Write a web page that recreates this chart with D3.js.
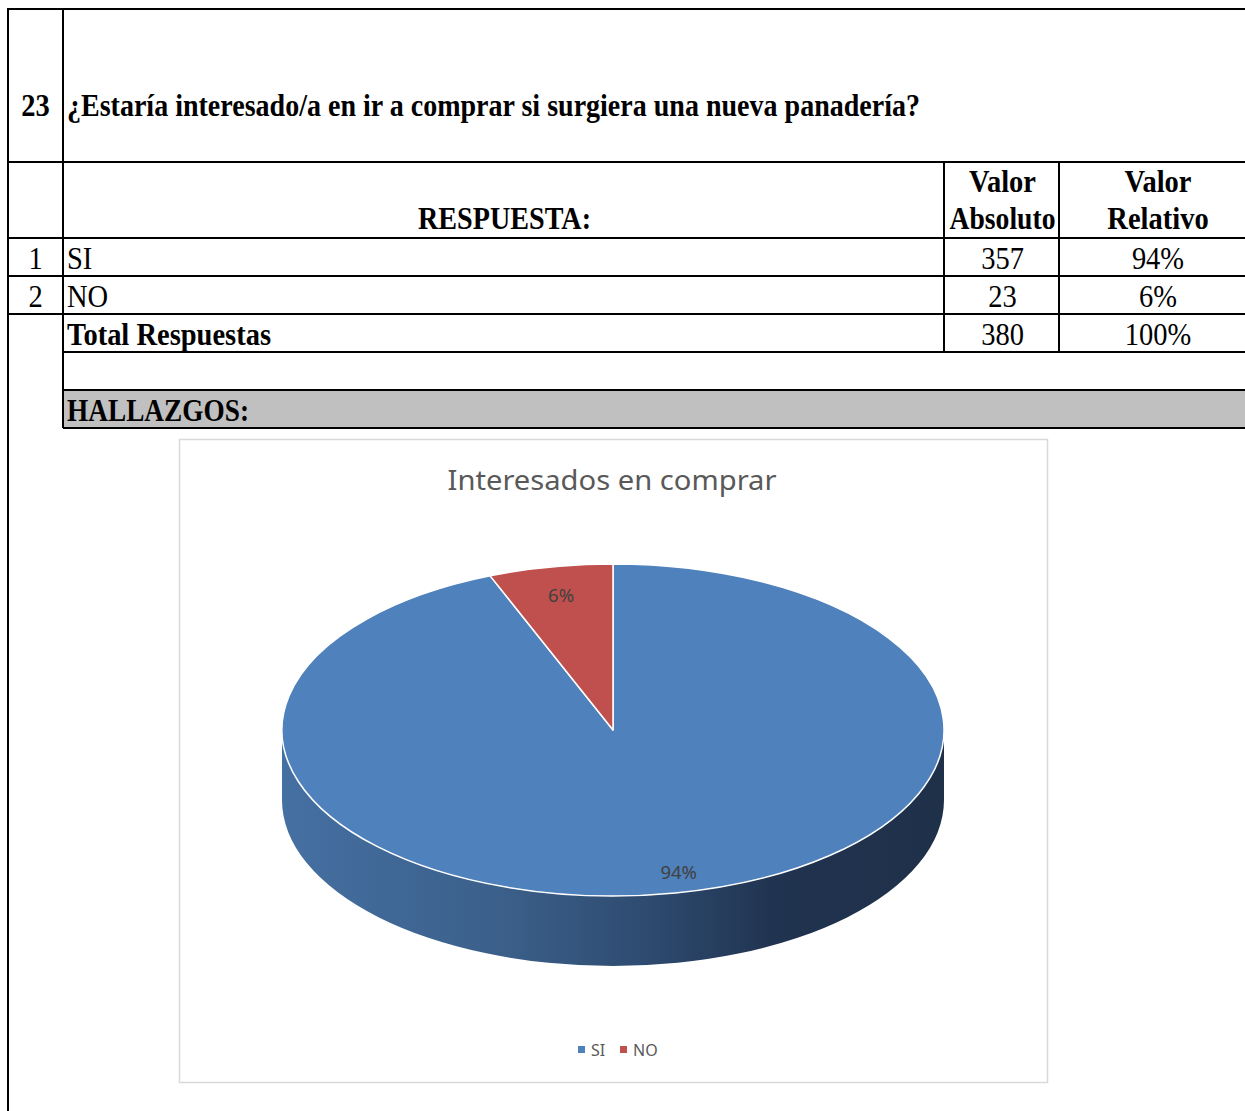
<!DOCTYPE html>
<html>
<head>
<meta charset="utf-8">
<script src="https://cdn.jsdelivr.net/npm/d3@7"></script>
<style>
  body { margin: 0; background: #fff; }
  .cell { font-family: "Liberation Serif", "Times New Roman", serif; font-size: 28.5px; fill: #000; }
  .bold { font-weight: bold; }
</style>
</head>
<body>
<div id="chart"></div>
<script>
// question / table data
var questionNo = "23";
var questionText = "¿Estaría interesado/a en ir a comprar si surgiera una nueva panadería?";
var categories = ["SI", "NO"];
var absValues = [357, 23];
var chartTitle = "Interesados en comprar";

var total = d3.sum(absValues);
var pct = d3.format(".0%");

var W = 1245, H = 1111;
var svg = d3.select("#chart").append("svg")
    .attr("width", W)
    .attr("height", H);

// ---- table grid ----
var xLeft = 8, xNum = 63, xAbs = 944, xRel = 1059, xRight = 1245;
var yTop = 9, yHead = 162, yRow0 = 238, rowH = 38;

var rowScale = d3.scaleBand()
    .domain(categories.concat(["Total", "blank", "hallazgos"]))
    .range([yRow0, yRow0 + rowH * 5]);

var grid = svg.append("g").attr("stroke", "#000").attr("stroke-width", 2);

// grey HALLAZGOS band
svg.insert("rect", ":first-child")
    .attr("x", xNum).attr("y", rowScale("hallazgos"))
    .attr("width", xRight - xNum).attr("height", rowScale.bandwidth())
    .attr("fill", "#c0c0c0");

function hline(x1, x2, y) {
    grid.append("line").attr("x1", x1).attr("x2", x2).attr("y1", y).attr("y2", y);
}
function vline(x, y1, y2) {
    grid.append("line").attr("x1", x).attr("x2", x).attr("y1", y1).attr("y2", y2);
}

hline(xLeft - 1, xRight, yTop);
hline(xLeft, xRight, yHead);
hline(xLeft, xRight, yRow0);
categories.forEach(function (c) {
    hline(xLeft, xRight, rowScale(c) + rowScale.bandwidth());
});
hline(xNum, xRight, rowScale("Total") + rowScale.bandwidth());
hline(xNum, xRight, rowScale("blank") + rowScale.bandwidth());
hline(xNum, xRight, rowScale("hallazgos") + rowScale.bandwidth());
vline(xLeft, yTop, H);
vline(xNum, yTop, rowScale("hallazgos") + rowScale.bandwidth());
vline(xAbs, yHead, rowScale("Total") + rowScale.bandwidth());
vline(xRel, yHead, rowScale("Total") + rowScale.bandwidth());

// text helper: Excel-like slightly taller glyphs
function cellText(txt, x, y, anchor, bold, len) {
    var t = svg.append("text")
        .attr("class", "cell" + (bold ? " bold" : ""))
        .attr("transform", "translate(" + x + "," + y + ") scale(1,1.08)")
        .attr("text-anchor", anchor)
        .text(txt);
    if (len) t.attr("textLength", len).attr("lengthAdjust", "spacingAndGlyphs");
    return t;
}

var cNum = (xLeft + xNum) / 2, cAbs = (xAbs + xRel) / 2 + 1, cRel = (xRel + xRight) / 2 + 6;
var base = rowH - 7;

cellText(questionNo, cNum, 116, "middle", true);
cellText(questionText, xNum + 4, 116, "start", true, 853);
cellText("RESPUESTA:", (xNum + xAbs) / 2 + 1, 229, "middle", true, 173);
cellText("Valor", cAbs, 192, "middle", true);
cellText("Absoluto", cAbs, 229, "middle", true, 106);
cellText("Valor", cRel, 192, "middle", true);
cellText("Relativo", cRel, 229, "middle", true);

categories.forEach(function (c, i) {
    var y = rowScale(c) + base;
    cellText(String(i + 1), cNum, y, "middle", false);
    cellText(c, xNum + 4, y, "start", false);
    cellText(String(absValues[i]), cAbs, y, "middle", false);
    cellText(pct(absValues[i] / total), cRel, y, "middle", false);
});
cellText("Total Respuestas", xNum + 4, rowScale("Total") + base, "start", true);
cellText(String(total), cAbs, rowScale("Total") + base, "middle", false);
cellText(pct(1), cRel, rowScale("Total") + base, "middle", false);
cellText("HALLAZGOS:", xNum + 4, rowScale("hallazgos") + base, "start", true, 182);

// ---- chart box ----
var box = { x: 179.5, y: 439.5, w: 868, h: 643 };
svg.append("rect")
    .attr("x", box.x).attr("y", box.y)
    .attr("width", box.w).attr("height", box.h)
    .attr("fill", "#fff").attr("stroke", "#d9d9d9").attr("stroke-width", 1.5);

svg.append("text")
    .attr("x", 612).attr("y", 490)
    .attr("text-anchor", "middle")
    .attr("font-family", "Noto Sans, Open Sans, sans-serif")
    .attr("font-size", 27)
    .attr("fill", "#595959")
    .attr("textLength", 329).attr("lengthAdjust", "spacingAndGlyphs")
    .text(chartTitle);

// ---- 3D pie ----
var cx = 613, cy = 730, rx = 331, ry = 166, depth = 70;
var color = d3.scaleOrdinal().domain(categories).range(["#4f81bd", "#c0504d"]);
var sideColor = { SI: "sideBlue", NO: "sideRed" };

var defs = svg.append("defs");
function sideGrad(id, stops) {
    var g = defs.append("linearGradient").attr("id", id)
        .attr("gradientUnits", "userSpaceOnUse")
        .attr("x1", cx - rx).attr("x2", cx + rx).attr("y1", 0).attr("y2", 0);
    stops.forEach(function (s) {
        g.append("stop").attr("offset", s[0]).attr("stop-color", s[1]);
    });
}
sideGrad("sideBlue", [[0, "#4570a2"], [0.35, "#3a5e88"], [0.55, "#2e4b70"], [0.75, "#20334f"], [1, "#1f3049"]]);
sideGrad("sideRed", [[0, "#a84543"], [0.5, "#8a3634"], [1, "#5c2221"]]);

var pie = d3.pie().sort(null).value(function (d) { return d.value; });
var arcs = pie(categories.map(function (c, i) { return { key: c, value: absValues[i] }; }));

function pt(a, dy) {
    return [cx + rx * Math.sin(a), cy - ry * Math.cos(a) + (dy || 0)];
}

var pieG = svg.append("g");

// side walls (front half only: pi/2 .. 3pi/2)
arcs.forEach(function (d) {
    var a0 = Math.max(d.startAngle, Math.PI / 2);
    var a1 = Math.min(d.endAngle, Math.PI * 3 / 2);
    if (a1 <= a0) return;
    var p0 = pt(a0), p1 = pt(a1), q1 = pt(a1, depth), q0 = pt(a0, depth);
    var path = "M" + p0 + " A" + rx + "," + ry + " 0 0 1 " + p1 +
        " L" + q1 + " A" + rx + "," + ry + " 0 0 0 " + q0 + " Z";
    pieG.append("path")
        .attr("d", path)
        .attr("fill", "url(#" + sideColor[d.data.key] + ")");
});

// top faces
arcs.forEach(function (d) {
    var p0 = pt(d.startAngle), p1 = pt(d.endAngle);
    var large = (d.endAngle - d.startAngle) > Math.PI ? 1 : 0;
    var path = "M" + cx + "," + cy + " L" + p0 +
        " A" + rx + "," + ry + " 0 " + large + " 1 " + p1 + " Z";
    pieG.append("path")
        .attr("d", path)
        .attr("fill", color(d.data.key))
        .attr("stroke", "#fff")
        .attr("stroke-width", 1.5)
        .attr("stroke-linejoin", "round");
});

// data labels
arcs.forEach(function (d) {
    var m = (d.startAngle + d.endAngle) / 2;
    var f = d.data.key === "SI" ? 0.87 : 0.83;
    var x = cx + rx * Math.sin(m) * (d.data.key === "SI" ? 1.05 : f);
    var y = cy - ry * Math.cos(m) * f;
    pieG.append("text")
        .attr("x", x).attr("y", y + 7)
        .attr("text-anchor", "middle")
        .attr("font-family", "Noto Sans, Open Sans, sans-serif")
        .attr("font-size", 18.5)
        .attr("fill", "#404040")
        .text(pct(d.data.value / total));
});

// legend
var legend = svg.append("g").attr("transform", "translate(578,1050)");
var lx = d3.scalePoint().domain(categories).range([0, 42]);
categories.forEach(function (c) {
    var g = legend.append("g").attr("transform", "translate(" + lx(c) + ",0)");
    g.append("rect").attr("x", 0).attr("y", -4).attr("width", 7).attr("height", 7).attr("fill", color(c));
    g.append("text").attr("x", 13).attr("y", 6)
        .attr("font-family", "Noto Sans, Open Sans, sans-serif")
        .attr("font-size", 16).attr("fill", "#595959")
        .text(c);
});
</script>
</body>
</html>
